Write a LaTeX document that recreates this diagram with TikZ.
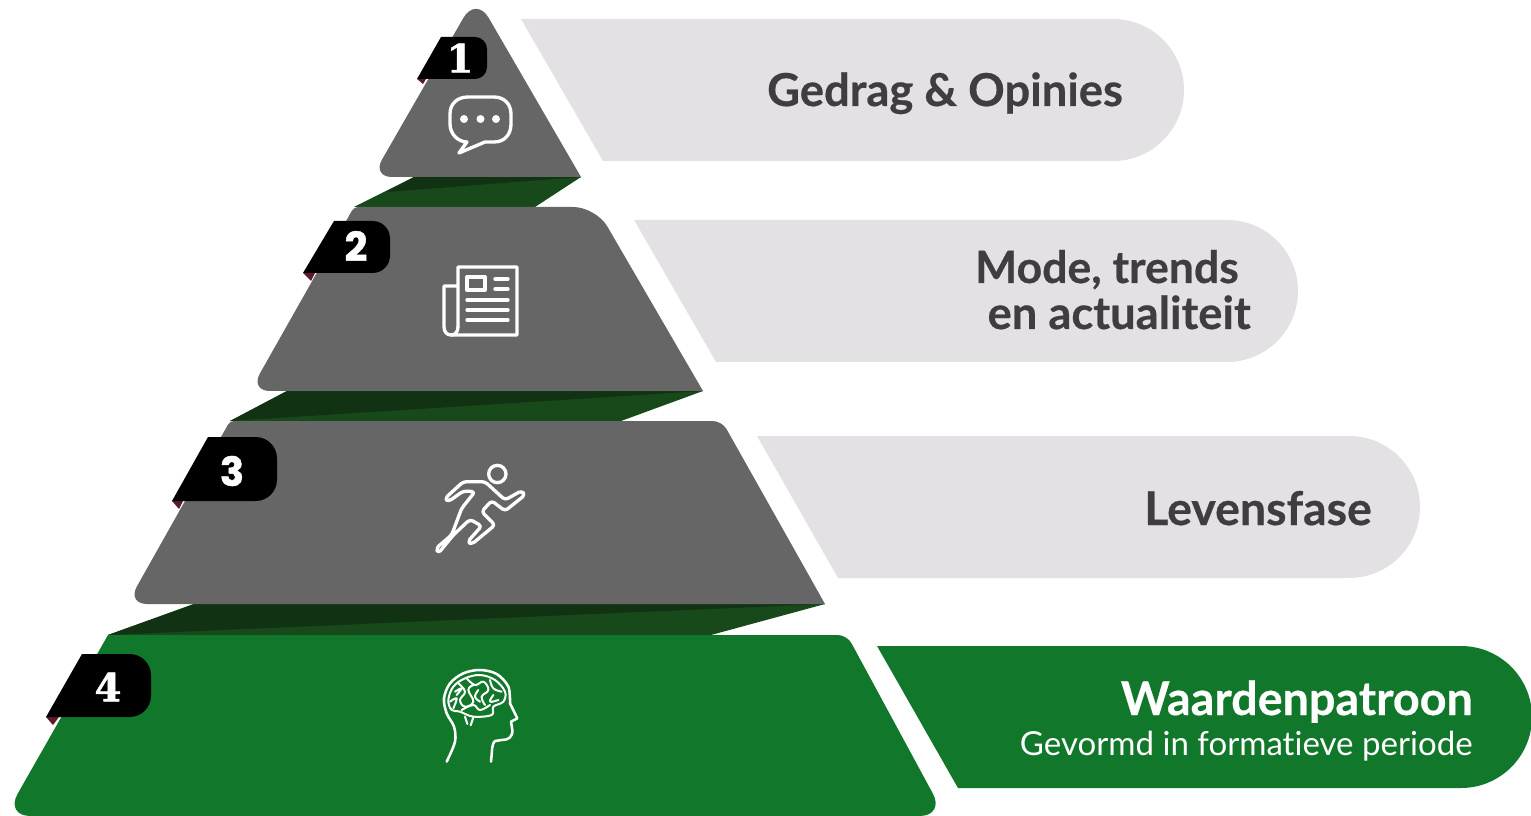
\documentclass[tikz,border=0pt]{standalone}
\usepackage{fontspec}
\setmainfont{Lato}
\newfontfamily\labfont{Lato}[BoldFeatures={FakeBold=0.5}]
\newfontfamily\subfont{Lato}[Ligatures=NoCommon]
\newfontfamily\numa{DejaVu Serif}[BoldFeatures={FakeBold=1.2}]
\newfontfamily\numb{Poppins}[BoldFeatures={FakeBold=1.2}]
\definecolor{tiergray}{HTML}{666666}
\definecolor{tiergreen}{HTML}{11772A}
\definecolor{bandgray}{HTML}{E3E1E3}
\definecolor{inktext}{HTML}{3F3D42}
\definecolor{linkgreen}{HTML}{18491A}
\definecolor{linkdark}{HTML}{123313}
\definecolor{foldred}{HTML}{5E1A2B}
\tikzset{
  labeltxt/.style={inner sep=0pt,font=\labfont\bfseries\fontsize{34}{34}\selectfont,text=inktext},
  numtxt/.style={inner sep=0pt,text=white},
  iconline/.style={draw=white,line width=2.5pt,line join=round,line cap=round},
  thinline/.style={draw=white,line width=1.5pt,line join=round,line cap=round},
  zoomunits/.style={x=0.25pt,y=-0.25pt}
}
\begin{document}
\begin{tikzpicture}[x=0.75pt,y=-0.75pt]
\useasboundingbox (0,0) rectangle (1531,816);
\clip (0,0) rectangle (1531,816);
% connector slabs
\fill[linkgreen] (414,177) -- (581,177) -- (535,207) -- (354,207) -- cycle;
\fill[linkdark] (414,177) -- (581,177) -- (387,192) -- cycle;
\fill[linkgreen] (287,391) -- (703,391) -- (621,421) -- (230,421) -- cycle;
\fill[linkdark] (287,391) -- (703,391) -- (230,421) -- cycle;
\fill[linkgreen] (194,604) -- (825,604) -- (711,635) -- (108,635) -- cycle;
\fill[linkdark] (194,604) -- (825,604) -- (108,635) -- cycle;
% tiers
\fill[tiergray] (581,177) [rounded corners=19pt] -- (476,-4) [rounded corners=15pt] -- (372,177) [sharp corners] -- cycle;
\fill[tiergray] (703,391) [rounded corners=17pt] -- (596,207) [rounded corners=3pt] -- (354,207) [rounded corners=15pt] -- (250,391) [sharp corners] -- cycle;
\fill[tiergray] (825,604) [rounded corners=7pt] -- (722,421) [rounded corners=3pt] -- (230,421) [rounded corners=15pt] -- (127,604) [sharp corners] -- cycle;
\fill[tiergreen] (108,635) [rounded corners=7pt] -- (847,635) [rounded corners=19pt] -- (945,816) -- (5,816) [sharp corners] -- cycle;
% bands
\fill[bandgray] (521,19) -- (1113,19) arc[start angle=-90,end angle=90,radius=71] -- (603,161) -- cycle;
\fill[bandgray] (634,220) -- (1227,220) arc[start angle=-90,end angle=90,radius=71] -- (716,362) -- cycle;
\fill[bandgray] (757,436) -- (1349,436) arc[start angle=-90,end angle=90,radius=71] -- (838,578) -- cycle;
\fill[tiergreen] (877,646) -- (1461,646) arc[start angle=-90,end angle=90,radius=71] -- (958,788) -- cycle;
% folds
\fill[foldred] (417,79) -- (423,84) -- (426,79) -- cycle;
\fill[foldred] (303,273) -- (311,281) -- (315,273) -- cycle;
\fill[foldred] (172,501) -- (179,509) -- (183,501) -- cycle;
\fill[foldred] (46,717) -- (53,725) -- (59,717) -- cycle;
% badges
\fill[black] (417,79) -- (441,37) [rounded corners=9pt] -- (487,37) -- (487,79) [sharp corners] -- cycle;
\fill[black] (303,273) -- (334,221) [rounded corners=13pt] -- (390,221) -- (390,273) [sharp corners] -- cycle;
\fill[black] (172,501) -- (208,437) [rounded corners=16pt] -- (277,437) -- (277,501) [sharp corners] -- cycle;
\fill[black] (46,717) -- (82,654) [rounded corners=16pt] -- (151,654) -- (151,717) [sharp corners] -- cycle;
\node[numtxt,font=\numa\bfseries\fontsize{29}{29}\selectfont] (n1) at (460,58) {1};
\node[numtxt,font=\numb\bfseries\fontsize{30}{30}\selectfont] (n2) at (356,246) {2};
\node[numtxt,font=\numb\bfseries\fontsize{30}{30}\selectfont] (n3) at (232,471) {3};
\node[numtxt,font=\numa\bfseries\fontsize{29}{29}\selectfont] (n4) at (108,687) {4};
% speech bubble icon
\draw[iconline] (467,142) -- (459,153) -- (485,142) -- (494,142)
  .. controls (505,142) and (511,134) .. (511,124) -- (511,114)
  .. controls (511,104) and (504,97) .. (494,97) -- (468,97)
  .. controls (457,97) and (450,104) .. (450,114) -- (450,124)
  .. controls (450,134) and (458,142) .. (467,142) -- cycle;
\fill[white] (464,119) circle[radius=4] (480.5,119) circle[radius=4] (496,119) circle[radius=4];
% newspaper icon
\draw[iconline] (458,327) -- (458,267) -- (517,267) -- (517,335) -- (451,335)
  .. controls (447,335) and (444,332) .. (444,327) -- (444,286) -- (458,286);
\draw[iconline] (458,327) .. controls (458,332) and (455,335) .. (451,335);
\draw[iconline] (467,277) rectangle (485,290);
\draw[iconline] (495,279) -- (508,279) (495,289) -- (508,289);
\draw[iconline] (467,300) -- (508,300) (467,310) -- (508,310) (467,320) -- (508,320);
% runner icon
\begin{scope}[xshift=120pt,yshift=-322.5pt,zoomunits]
\draw[iconline,rounded corners=2.5pt] (910,155) -- (975,155) -- (1035,210) -- (1085,182) -- (1095,195) -- (1035,243) -- (995,212) -- (965,245) -- (1005,285) -- (935,343) -- (923,335) -- (965,288) -- (930,268) -- (880,315) -- (835,370) -- (828,355) -- (875,315) -- (905,235) -- (945,185) -- (910,183) -- (865,215) -- (855,205) -- cycle;
\draw[iconline] (1012,132) circle[radius=26];
\end{scope}
% brain icon
\begin{scope}[xshift=322.5pt,yshift=-495pt,zoomunits]
\draw[iconline,line width=1.9pt] plot[smooth,tension=0.55] coordinates {(50,305) (75,245) (72,200) (50,160) (42,115) (60,70) (100,40) (150,30) (200,42) (235,80) (240,130)};
\draw[iconline,line width=1.9pt] (240,130) -- (262,175) -- (243,185) -- (247,210) .. controls (248,232) and (235,240) .. (215,240) -- (195,243) .. controls (185,250) and (187,270) .. (183,305);
\draw[thinline] plot[smooth cycle,tension=0.6] coordinates {(55,120) (70,80) (105,55) (150,45) (195,60) (225,95) (220,125) (190,140) (185,165) (130,170) (90,155) (65,150)};
\draw[thinline] plot[smooth,tension=0.7] coordinates {(85,70) (105,95) (90,120) (105,140) (130,125) (115,90) (130,75)};
\draw[thinline] plot[smooth,tension=0.7] coordinates {(110,55) (135,75) (160,65) (175,90) (155,110) (165,135)};
\draw[thinline] plot[smooth,tension=0.7] coordinates {(180,60) (190,85) (215,95)};
\draw[thinline] plot[smooth,tension=0.7] coordinates {(60,125) (80,115) (70,145)};
\draw[thinline] plot[smooth,tension=0.7] coordinates {(95,150) (130,135) (150,150) (180,135)};
\draw[thinline] plot[smooth,tension=0.7] coordinates {(190,105) (180,125) (205,120)};
\draw[thinline] plot[smooth,tension=0.7] coordinates {(75,95) (95,85) (80,105)};
\draw[thinline] plot[smooth,tension=0.7] coordinates {(145,90) (135,110) (150,125)};
\draw[thinline] (105,170) -- (112,192) (130,172) -- (122,196);
\end{scope}
% labels
\node[labeltxt,anchor=base] (t1) at (945,106) {Gedrag \& Opinies};
\node[labeltxt,anchor=base east,font=\labfont\bfseries\fontsize{33.4}{34}\selectfont] (t2a) at (1239,283) {Mode, trends};
\node[labeltxt,anchor=base east] (t2b) at (1251,329) {en actualiteit};
\node[labeltxt,anchor=base east,font=\labfont\bfseries\fontsize{34.8}{34}\selectfont] (t3) at (1372,525) {Levensfase};
\node[labeltxt,anchor=base east,text=white,font=\labfont\bfseries\fontsize{35}{34}\selectfont] (t4a) at (1473,715) {Waardenpatroon};
\node[anchor=base east,inner sep=0pt,text=white,font=\subfont\fontsize{24.8}{24}\selectfont] (t4b) at (1473,755) {Gevormd in formatieve periode};
\end{tikzpicture}
\end{document}
